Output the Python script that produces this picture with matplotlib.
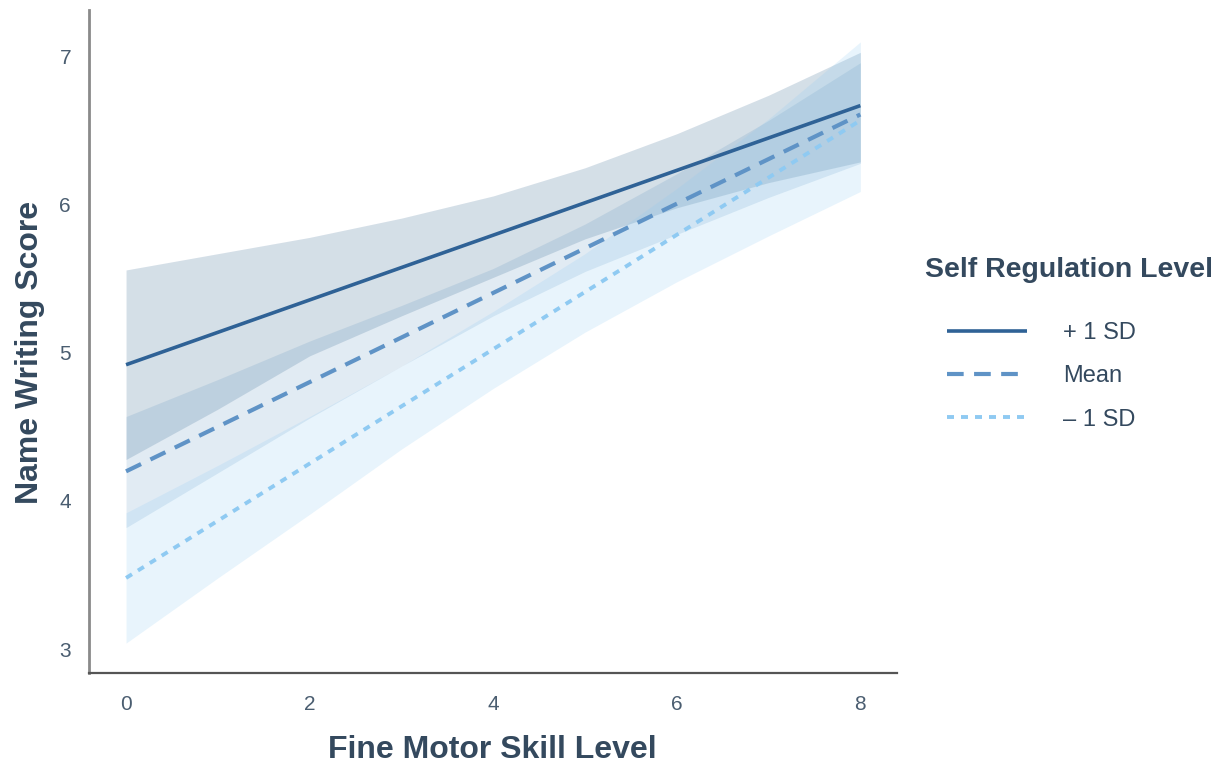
import matplotlib
matplotlib.use("Agg")
import matplotlib.pyplot as plt

plt.rcParams['font.family'] = ['Liberation Sans', 'DejaVu Sans']

# fine motor skill level (x) where bands were read
skill = [0, 1, 2, 3, 4, 5, 6, 7, 8]
line_x = [0, 8]

# fitted lines per self regulation level
plus_line = [4.92, 6.67]
mean_line = [4.20, 6.61]
minus_line = [3.48, 6.57]

# confidence bands
plus_lo = [4.28, 4.62, 4.98, 5.25, 5.51, 5.77, 5.98, 6.15, 6.29]
plus_hi = [5.56, 5.67, 5.78, 5.91, 6.06, 6.25, 6.48, 6.74, 7.03]
mean_lo = [3.82, 4.19, 4.56, 4.91, 5.25, 5.55, 5.80, 6.05, 6.28]
mean_hi = [4.57, 4.82, 5.08, 5.32, 5.57, 5.87, 6.21, 6.57, 6.96]
minus_lo = [3.04, 3.48, 3.91, 4.35, 4.76, 5.14, 5.48, 5.79, 6.09]
minus_hi = [3.92, 4.24, 4.57, 4.91, 5.28, 5.67, 6.11, 6.58, 7.10]

labels = ['+ 1 SD', 'Mean', '\u2013 1 SD']
colors = ['#2f6296', '#5f93c6', '#8fcaf2']
text_color = '#34495e'

fig = plt.figure(figsize=(12.25, 7.66), dpi=100)
ax = fig.add_axes([0.0727, 0.1214, 0.6596, 0.866])

# bands first
ax.fill_between(skill, plus_lo, plus_hi, color='#2c5f8a', alpha=0.2, lw=0)
ax.fill_between(skill, mean_lo, mean_hi, color='#4f89b8', alpha=0.17, lw=0)
ax.fill_between(skill, minus_lo, minus_hi, color='#8ccaf3', alpha=0.2, lw=0)

# lines
ax.plot(line_x, plus_line, color=colors[0], lw=2.6, solid_capstyle='butt', label=labels[0])
ax.plot(line_x, mean_line, color=colors[1], lw=3, linestyle=(0, (4, 2.5)), label=labels[1])
ax.plot(line_x, minus_line, color=colors[2], lw=2.8, linestyle=(0, (1.8, 1.8)), label=labels[2])

ax.set_xlim(-0.403, 8.40)
ax.set_ylim(2.838, 7.318)
ax.set_xticks([0, 2, 4, 6, 8])
ax.set_yticks([3, 4, 5, 6, 7])

for s in ['top', 'right']:
    ax.spines[s].set_visible(False)
ax.spines['left'].set_color('#8a8a8a')
ax.spines['left'].set_linewidth(2)
ax.spines['bottom'].set_color('#555555')
ax.spines['bottom'].set_linewidth(1.6)
ax.tick_params(axis='both', length=0, labelsize=15, labelcolor='#4a5d70')
ax.tick_params(axis='x', pad=16)
ax.tick_params(axis='y', pad=13)

ax.set_xlabel('Fine Motor Skill Level', fontsize=23, fontweight='bold', color=text_color)
ax.set_ylabel('Name Writing Score', fontsize=23, fontweight='bold', color=text_color)
ax.xaxis.set_label_coords(0.499, -0.093)
ax.yaxis.set_label_coords(-0.055, 0.484)

fig.text(925 / 1225, 1 - 270 / 766, 'Self Regulation Level', fontsize=20.5, fontweight='bold',
         color=text_color, va='center', ha='left')

leg = ax.legend(loc='upper left', bbox_to_anchor=(947 / 1225, 1 - 322 / 766), bbox_transform=fig.transFigure,
                frameon=False, fontsize=17, handlelength=3.4, handletextpad=1.5, labelspacing=0.9,
                borderaxespad=0, borderpad=0)
for t in leg.get_texts():
    t.set_color(text_color)

fig.savefig('out.png', dpi=100)
